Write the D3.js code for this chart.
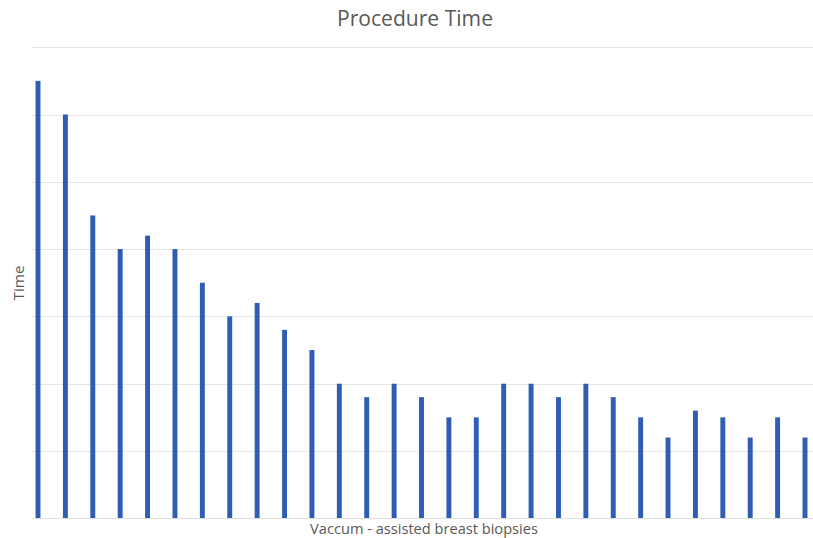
<!DOCTYPE html>
<html><head><meta charset="utf-8">
<script src="https://cdn.jsdelivr.net/npm/d3@7"></script>
<style>
body{margin:0;background:#fff;}
svg{display:block;}
text{font-family:"Open Sans","Noto Sans",sans-serif;fill:#595959;}
</style></head>
<body><svg id="c" width="813" height="538"></svg>
<script>
const categories = d3.range(1, 30).map(String);
const times = [65, 60, 45, 40, 42, 40, 35, 30, 32, 28, 25, 20, 18, 20, 18, 15, 15, 20, 20, 18, 20, 18, 15, 12, 16, 15, 12, 15, 12];
const yTicks = [0, 10, 20, 30, 40, 50, 60, 70];
const title = "Procedure Time";
const xTitle = "Vaccum - assisted breast biopsies";
const yTitle = "Time";

const svg = d3.select("#c");
const x = d3.scaleBand().domain(categories).range([24.3, 818.7]).paddingInner(0.82).paddingOuter(0.41);
const y = d3.scaleLinear().domain([0, 70]).range([518.3, 47.2]);

// gridlines
svg.append("g").selectAll("line").data(yTicks.slice(1)).join("line")
  .attr("x1", 32).attr("x2", 813)
  .attr("y1", d => Math.round(y(d)) + 0.5).attr("y2", d => Math.round(y(d)) + 0.5)
  .attr("stroke", "#e6e6e6").attr("stroke-width", 1);

// bars
svg.append("g").selectAll("rect").data(times).join("rect")
  .attr("x", (d, i) => x(categories[i]))
  .attr("width", x.bandwidth())
  .attr("y", d => y(d))
  .attr("height", d => y(0) - y(d))
  .attr("fill", "#2e5db3");

// baseline
svg.append("line").attr("x1", 32).attr("x2", 813).attr("y1", 518.5).attr("y2", 518.5)
  .attr("stroke", "#e0e0e0");

function fitText(sel, w) {
  const n = sel.node();
  const len = n.getComputedTextLength();
  const fs = parseFloat(sel.attr("font-size"));
  sel.attr("font-size", fs * w / len);
}

const t = svg.append("text").attr("x", 415).attr("y", 26).attr("text-anchor", "middle")
  .attr("font-size", 20).text(title);
fitText(t, 156);

const xt = svg.append("text").attr("x", 424).attr("y", 534).attr("text-anchor", "middle")
  .attr("font-size", 15).text(xTitle);
fitText(xt, 228);

const yt = svg.append("text").attr("transform", "translate(24,283) rotate(-90)")
  .attr("text-anchor", "middle").attr("font-size", 15).text(yTitle);
fitText(yt, 35);
</script></body></html>
